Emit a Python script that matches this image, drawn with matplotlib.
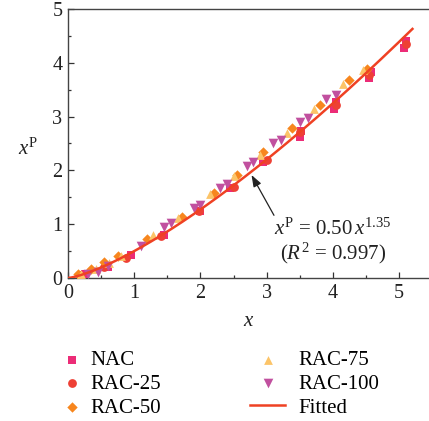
import numpy as np
import matplotlib
matplotlib.use('Agg')
import matplotlib.pyplot as plt
from matplotlib.ticker import MultipleLocator

plt.rcParams['font.family'] = ['Liberation Serif', 'DejaVu Serif']
plt.rcParams['mathtext.fontset'] = 'custom'
plt.rcParams['mathtext.rm'] = 'Liberation Serif'
plt.rcParams['mathtext.it'] = 'Liberation Serif:italic'

# Daten
nac_x = [0.25, 0.6, 0.95, 1.45, 2.0, 2.45, 2.95, 3.5, 3.52, 4.02, 4.04, 4.55, 4.57, 5.07, 5.1]
nac_y = [0.07, 0.2, 0.42, 0.8, 1.25, 1.68, 2.15, 2.63, 2.74, 3.15, 3.27, 3.72, 3.82, 4.28, 4.4]

rac25_x = [0.18, 0.55, 0.88, 1.4, 1.98, 2.5, 3.0, 3.5, 4.05, 4.55, 5.1]
rac25_y = [0.05, 0.2, 0.38, 0.78, 1.25, 1.7, 2.2, 2.72, 3.22, 3.78, 4.35]

rac50_x = [0.15, 0.35, 0.55, 0.75, 1.2, 1.72, 2.2, 2.55, 2.95, 3.38, 3.81, 4.24, 4.52]
rac50_y = [0.08, 0.17, 0.29, 0.40, 0.72, 1.14, 1.58, 1.92, 2.34, 2.79, 3.22, 3.68, 3.88]

rac75_x = [0.2, 0.42, 0.62, 0.8, 1.28, 1.66, 2.15, 2.5, 2.9, 3.3, 3.72, 4.15, 4.45]
rac75_y = [0.07, 0.16, 0.27, 0.41, 0.8, 1.12, 1.57, 1.9, 2.28, 2.7, 3.15, 3.6, 3.86]

rac100_x = [0.3, 0.45, 0.6, 1.1, 1.45, 1.55, 1.9, 2.0, 2.3, 2.4, 2.7, 2.8, 3.1, 3.22, 3.5, 3.63, 3.9, 4.05]
rac100_y = [0.07, 0.12, 0.22, 0.6, 0.95, 1.02, 1.3, 1.35, 1.68, 1.74, 2.08, 2.15, 2.5, 2.56, 2.9, 2.97, 3.32, 3.4]

# Fit: xP = a * x^b
fit_a = 0.50
fit_b = 1.35
fit_xmax = 5.2

fig = plt.figure(figsize=(4.29, 4.21), dpi=100)
ax = fig.add_axes([0.1585, 0.3397, 0.8415, 0.6389])

ms = 40
ax.scatter(nac_x, nac_y, marker='s', s=ms, color='#ec2c77', linewidths=0, label='NAC', zorder=3)
ax.scatter(rac25_x, rac25_y, marker='o', s=ms, color='#ee4035', linewidths=0, label='RAC-25', zorder=3)
ax.scatter(rac50_x, rac50_y, marker='D', s=ms * 0.7, color='#f7861e', linewidths=0, label='RAC-50', zorder=3)
ax.scatter(rac75_x, rac75_y, marker='^', s=ms, color='#fcc468', linewidths=0, label='RAC-75', zorder=3)
ax.scatter(rac100_x, rac100_y, marker='v', s=ms * 1.2, color='#c1509f', linewidths=0, label='RAC-100', zorder=3)

xf = np.linspace(0, fit_xmax, 200)
ax.plot(xf, fit_a * xf ** fit_b, color='#ef4123', lw=1.8, label='Fitted', zorder=4)

ax.annotate('', xy=(2.75, 1.96), xytext=(3.13, 1.12),
            arrowprops=dict(arrowstyle='-|>,head_length=0.5,head_width=0.18', color='#222222',
                            lw=0.9, mutation_scale=14))
ax.text(4.0, 0.90, r'$x^{\mathrm{P}}$ = 0.50$\,x^{1.35}$', ha='center', va='center', fontsize=15, color='#222222')
ax.text(4.0, 0.45, r'($R^2$ = 0.997)', ha='center', va='center', fontsize=15, color='#222222')

ax.set_xlim(0, 5.45)
ax.set_ylim(0, 5)
ax.xaxis.set_major_locator(MultipleLocator(1))
ax.xaxis.set_minor_locator(MultipleLocator(0.5))
ax.yaxis.set_major_locator(MultipleLocator(1))
ax.yaxis.set_minor_locator(MultipleLocator(0.5))
ax.tick_params(which='both', direction='in', colors='#333333', labelsize=14.5, labelcolor='#222222')
ax.tick_params(which='major', length=4, width=0.9, pad=4)
ax.tick_params(which='minor', length=2.5, width=0.9)
ax.spines['right'].set_visible(False)
for s in ['left', 'bottom', 'top']:
    ax.spines[s].set_color('#444444')
    ax.spines[s].set_linewidth(1.0)

ax.set_xlabel(r'$x$', fontsize=15, labelpad=7, color='#222222')
ax.set_ylabel(r'$x^{\mathrm{P}}$', fontsize=15, rotation=0, color='#222222')
ax.yaxis.set_label_coords(-0.11, 0.44)

# Legende in zwei Spalten (zwei getrennte Legenden wie im Original)
handles, labels = ax.get_legend_handles_labels()
leg1 = fig.legend(handles[:3], labels[:3], loc='upper left', bbox_to_anchor=(0.1434, 0.1675),
                  frameon=False, fontsize=15, handlelength=1.0, handletextpad=0.4,
                  labelspacing=0.2, borderpad=0, borderaxespad=0, markerscale=1.0)
fig.legend(handles[3:], labels[3:], loc='upper left', bbox_to_anchor=(0.5828, 0.1675),
           frameon=False, fontsize=15, handlelength=1.7, handletextpad=0.63,
           labelspacing=0.2, borderpad=0, borderaxespad=0, markerscale=1.0)

fig.savefig('out.png', dpi=100)
